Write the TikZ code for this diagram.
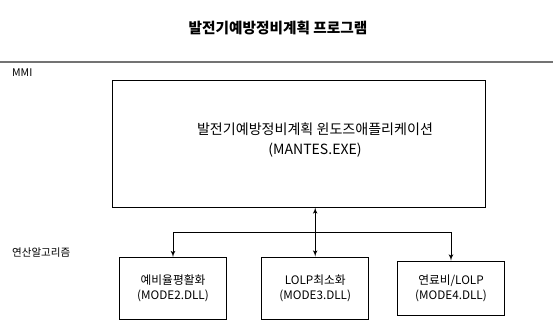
\documentclass[tikz,border=0pt]{standalone}
\usepackage{fontspec}
\setmainfont{Noto Sans CJK KR}
\usetikzlibrary{arrows, positioning, calc}
\tikzstyle{bigbox} = [rectangle, draw, line width=0.8pt, inner sep=0pt, minimum width=11.19cm, minimum height=3.81cm]
\tikzstyle{modbox} = [rectangle, draw, line width=0.8pt, inner sep=0pt, minimum width=3.22cm, minimum height=1.86cm, align=center, font=\fontsize{10}{12.5}\selectfont]
\tikzstyle{layer} = [font=\fontsize{9}{11}\selectfont, anchor=west]
\tikzstyle{line} = [draw, line width=0.8pt, -latex']
\tikzstyle{dline} = [draw, line width=0.8pt, latex'-latex']

\begin{document}
\begin{tikzpicture}[x=0.03cm, y=-0.03cm]
        \useasboundingbox (0,0) rectangle (553,328);
        \node [font=\bfseries\fontsize{12.5}{14}\selectfont] (title) at (278,28) {발전기예방정비계획 프로그램};
        \draw [line width=2.5pt, black!55] (0,62) -- (553,62);
        \node [layer] (mmi) at (8,73) {MMI};
        \node [layer] (algo) at (8,253) {연산알고리즘};
        \node [bigbox] (app) at (298.5,143.5) {};
        \node [align=center, font=\fontsize{12}{17}\selectfont] (apptext) at (315,140) {발전기예방정비계획 윈도즈애플리케이션\\(MANTES.EXE)};
        \node [modbox] (mode2) at (173,288.5) {예비율평활화\\(MODE2.DLL)};
        \node [modbox] (mode3) at (315.2,288) {LOLP최소화\\(MODE3.DLL)};
        \node [modbox, minimum height=1.62cm] (mode4) at (451,288) {연료비/LOLP\\(MODE4.DLL)};
        \coordinate (bus) at (315.2,232);

        \path [dline] (mode3.north |- app.south) -- (mode3.north);
        \path [line] (bus) -| (mode2.north);
        \path [line] (bus) -| (mode4.north);
    \end{tikzpicture}
\end{document}
